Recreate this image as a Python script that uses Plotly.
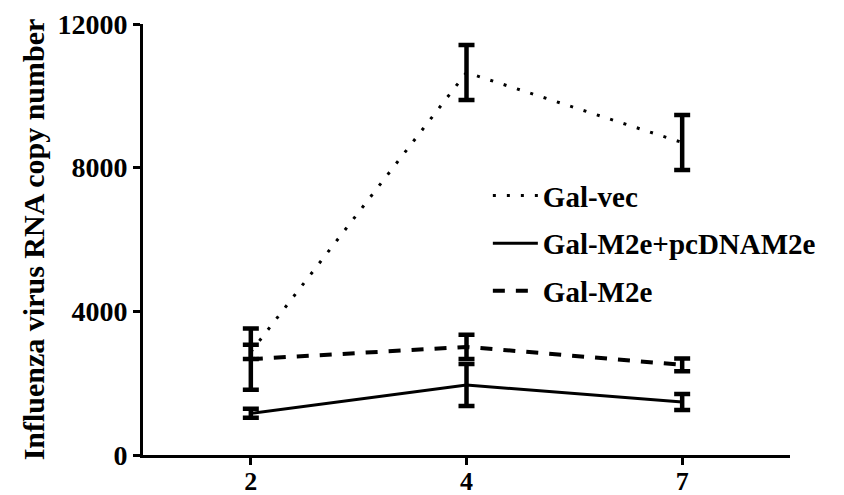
import plotly.graph_objects as go

# Days post infection (category labels on the x axis)
days = ["2", "4", "7"]

# Influenza virus RNA copy number, mean and error per group
gal_vec = [2870, 10650, 8700]
gal_vec_err = [200, 765, 765]

gal_m2e_pc = [1160, 1950, 1475]
gal_m2e_pc_err = [125, 585, 220]

gal_m2e = [2670, 3010, 2510]
gal_m2e_err = [850, 335, 180]

y_ticks = [0, 4000, 8000, 12000]

FONT = "Liberation Serif"

series = [
    ("Gal-vec", gal_vec, gal_vec_err, "3px,11px", 3),
    ("Gal-M2e+pcDNAM2e", gal_m2e_pc, gal_m2e_pc_err, "solid", 3),
    ("Gal-M2e", gal_m2e, gal_m2e_err, "12px,11px", 4),
]

fig = go.Figure()
for i, (name, vals, errs, dash, lw) in enumerate(series):
    fig.add_trace(go.Scatter(
        x=days, y=vals, name=name, mode="lines",
        legendgroup=f"g{i}",
        line=dict(color="black", width=lw, dash=dash),
        error_y=dict(type="data", array=errs, visible=True,
                     color="black", thickness=4.5, width=8),
    ))

fig.update_layout(
    width=844, height=495,
    margin=dict(l=143, r=54, t=24, b=40),
    paper_bgcolor="white", plot_bgcolor="white",
    font=dict(family=FONT, color="black", size=28),
    showlegend=True,
    legend=dict(
        x=0.533, y=0.661, xanchor="left", yanchor="top",
        bgcolor="rgba(0,0,0,0)", tracegroupgap=7,
        font=dict(family=FONT, size=29, color="black", weight="bold"),
        itemwidth=45,
    ),
)

fig.update_xaxes(
    type="category", range=[-0.5, 2.5], automargin=False,
    showline=True, linecolor="black", linewidth=3,
    ticks="outside", ticklen=7, tickwidth=3, tickcolor="black",
    ticklabelstandoff=-6,
    showgrid=False, zeroline=False,
    tickfont=dict(family=FONT, size=26, color="black", weight="bold"),
)

fig.update_yaxes(
    range=[0, 12000], tickvals=y_ticks, ticktext=[str(v) for v in y_ticks],
    automargin=False,
    showline=True, linecolor="black", linewidth=3,
    ticks="outside", ticklen=7, tickwidth=3, tickcolor="black",
    showgrid=False, zeroline=False,
    tickfont=dict(family=FONT, size=28, color="black", weight="bold"),
    title=dict(text="Influenza virus RNA copy number", standoff=4,
               font=dict(family=FONT, size=30, color="black", weight="bold")),
)

fig.write_html("out.html")
